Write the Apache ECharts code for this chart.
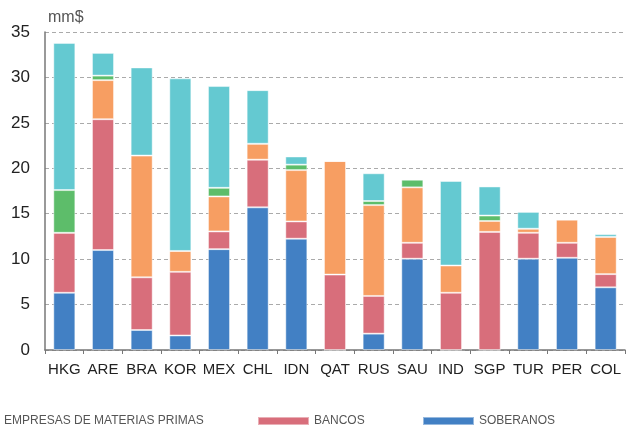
<!DOCTYPE html>
<html>
<head>
<meta charset="utf-8">
<script src="https://cdn.jsdelivr.net/npm/echarts@6/dist/echarts.min.js"></script>
<style>
  html, body { margin: 0; padding: 0; background: #fff; }
  #chart { width: 627px; height: 429px; }
</style>
</head>
<body>
<div id="chart"></div>
<script>
// países
const paises = ["HKG", "ARE", "BRA", "KOR", "MEX", "CHL", "IDN", "QAT", "RUS", "SAU", "IND", "SGP", "TUR", "PER", "COL"];

// valores por segmento (mm$), de abajo hacia arriba
const soberanos = [6.3, 11.0, 2.2, 1.6, 11.1, 15.7, 12.25, 0, 1.8, 10.05, 0, 0, 10.05, 10.15, 6.9];
const bancos = [6.6, 14.4, 5.8, 7.0, 1.95, 5.25, 1.9, 8.3, 4.15, 1.75, 6.3, 13.0, 2.85, 1.65, 1.45];
const materiasPrimas = [0, 4.3, 13.4, 2.3, 3.85, 1.75, 5.65, 12.5, 10.0, 6.1, 3.0, 1.2, 0.45, 2.55, 4.1];
const otrasFinancieras = [4.7, 0.5, 0, 0, 0.95, 0, 0.6, 0, 0.45, 0.85, 0, 0.6, 0, 0, 0];
const empresasNoFin = [16.2, 2.5, 9.7, 19.0, 11.2, 5.9, 0.9, 0, 3.05, 0, 9.3, 3.2, 1.85, 0, 0.3];

const ticksY = [0, 5, 10, 15, 20, 25, 30, 35];

const font = "Liberation Sans, Arial, sans-serif";

const serie = (name, data, color) => ({
    name: name,
    type: "bar",
    stack: "total",
    data: data,
    barWidth: "57%",
    itemStyle: {
        color: color,
        borderColor: "rgba(255,255,255,0.45)",
        borderWidth: 1
    }
});

// una leyenda por elemento para fijar su posición
const leyenda = (name, left) => ({
    data: [name],
    left: left,
    top: 410,
    itemWidth: 51,
    itemHeight: 8,
    icon: "rect",
    textStyle: { color: "#555", fontSize: 12, fontFamily: font }
});

let myChart = echarts.init(document.getElementById("chart"));

let option = {
    animation: false,
    title: {
        text: "mm$",
        left: 43,
        top: 5,
        textStyle: { color: "#555", fontSize: 16, fontWeight: "normal", fontFamily: font }
    },
    legend: [
        leyenda("EMPRESAS DE MATERIAS PRIMAS", -58),
        leyenda("BANCOS", 252),
        leyenda("SOBERANOS", 417)
    ],
    grid: {
        left: 45,
        right: 2,
        top: 32,
        bottom: 79,
        containLabel: false
    },
    xAxis: {
        type: "category",
        data: paises,
        axisLine: { lineStyle: { color: "#777", width: 1.5 } },
        axisTick: { show: true, inside: false, length: 4, lineStyle: { color: "#777" } },
        axisLabel: { color: "#222", fontSize: 15, fontFamily: font, margin: 12, interval: 0 }
    },
    yAxis: {
        type: "value",
        min: ticksY[0],
        max: ticksY[ticksY.length - 1],
        interval: 5,
        axisLine: { show: true, lineStyle: { color: "#777", width: 1.5 } },
        axisTick: { show: false },
        axisLabel: { color: "#222", fontSize: 17, fontFamily: font, margin: 15 },
        splitLine: { lineStyle: { color: "#aaa", type: [4, 3] } }
    },
    series: [
        serie("SOBERANOS", soberanos, "#4280C4"),
        serie("BANCOS", bancos, "#D86E7B"),
        serie("EMPRESAS DE MATERIAS PRIMAS", materiasPrimas, "#F79E62"),
        serie("OTRAS FINANCIERAS", otrasFinancieras, "#5DBD6A"),
        serie("EMPRESAS NO FINANCIERAS", empresasNoFin, "#64C9D1")
    ]
};

myChart.setOption(option);
</script>
</body>
</html>
